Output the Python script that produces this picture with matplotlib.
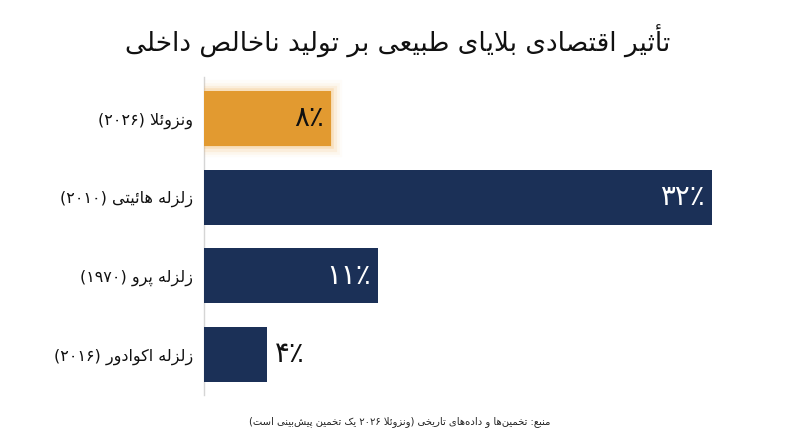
import re
import matplotlib
matplotlib.use('Agg')
import matplotlib.pyplot as plt
import matplotlib.patheffects as pe

# داده‌ها
categories = ['ونزوئلا (۲۰۲۶)', 'زلزله هائیتی (۲۰۱۰)', 'زلزله پرو (۱۹۷۰)', 'زلزله اکوادور (۲۰۱۶)']
values = [8, 32, 11, 4]
highlight = [True, False, False, False]
title = 'تأثیر اقتصادی بلایای طبیعی بر تولید ناخالص داخلی'
source = 'منبع: تخمین‌ها و داده‌های تاریخی (ونزوئلا ۲۰۲۶ یک تخمین پیش‌بینی است)'

ORANGE = '#E29A30'
NAVY = '#1B3057'

# --- a tiny arabic/persian shaper (no arabic_reshaper here) ---
_TABLE = [
    ('ء', 0xFE80, 'U'), ('آ', 0xFE81, 'R'), ('أ', 0xFE83, 'R'), ('ؤ', 0xFE85, 'R'),
    ('إ', 0xFE87, 'R'), ('ئ', 0xFE89, 'D'), ('ا', 0xFE8D, 'R'), ('ب', 0xFE8F, 'D'),
    ('ة', 0xFE93, 'R'), ('ت', 0xFE95, 'D'), ('ث', 0xFE99, 'D'), ('ج', 0xFE9D, 'D'),
    ('ح', 0xFEA1, 'D'), ('خ', 0xFEA5, 'D'), ('د', 0xFEA9, 'R'), ('ذ', 0xFEAB, 'R'),
    ('ر', 0xFEAD, 'R'), ('ز', 0xFEAF, 'R'), ('س', 0xFEB1, 'D'), ('ش', 0xFEB5, 'D'),
    ('ص', 0xFEB9, 'D'), ('ض', 0xFEBD, 'D'), ('ط', 0xFEC1, 'D'), ('ظ', 0xFEC5, 'D'),
    ('ع', 0xFEC9, 'D'), ('غ', 0xFECD, 'D'), ('ف', 0xFED1, 'D'), ('ق', 0xFED5, 'D'),
    ('ك', 0xFED9, 'D'), ('ل', 0xFEDD, 'D'), ('م', 0xFEE1, 'D'), ('ن', 0xFEE5, 'D'),
    ('ه', 0xFEE9, 'D'), ('و', 0xFEED, 'R'), ('ى', 0xFEEF, 'R'), ('ي', 0xFEF1, 'D'),
    ('پ', 0xFB56, 'D'), ('چ', 0xFB7A, 'D'), ('ژ', 0xFB8A, 'R'), ('ک', 0xFB8E, 'D'),
    ('گ', 0xFB92, 'D'), ('ی', 0xFBFC, 'D'),
]
BASE = {c: b for c, b, t in _TABLE}
JTYPE = {c: t for c, b, t in _TABLE}
LAM_ALEF = {'ا': 0xFEFB, 'أ': 0xFEF7, 'آ': 0xFEF5, 'إ': 0xFEF9}
DIGITS = '۰۱۲۳۴۵۶۷۸۹0123456789٪%'
MIRROR = {'(': ')', ')': '('}


def shape(text):
    units = []
    i = 0
    while i < len(text):
        if text[i] == 'ل' and i + 1 < len(text) and text[i + 1] in LAM_ALEF:
            units.append(('LA', text[i + 1]))
            i += 2
        else:
            units.append(('C', text[i]))
            i += 1

    def jt(u):
        return 'R' if u[0] == 'LA' else JTYPE.get(u[1], 'U')

    out = []
    for k, u in enumerate(units):
        t = jt(u)
        prev = k > 0 and jt(units[k - 1]) == 'D' and t in 'DR'
        nxt = k < len(units) - 1 and t == 'D' and jt(units[k + 1]) in 'DR'
        if u[0] == 'LA':
            out.append(chr(LAM_ALEF[u[1]] + (1 if prev else 0)))
        elif u[1] == '\u200c':
            continue
        elif t == 'D':
            idx = 3 if (prev and nxt) else 1 if prev else 2 if nxt else 0
            out.append(chr(BASE[u[1]] + idx))
        elif t == 'R':
            out.append(chr(BASE[u[1]] + (1 if prev else 0)))
        else:
            out.append(u[1])
    return ''.join(out)


def rtl(text):
    s = shape(text)
    runs = re.findall('[%s]+|[^%s]+' % (DIGITS, DIGITS), s)
    runs = [r if r[0] in DIGITS else ''.join(MIRROR.get(c, c) for c in reversed(r)) for r in runs]
    return ''.join(reversed(runs))


def fa_num(v):
    return str(v).translate(str.maketrans('0123456789', '۰۱۲۳۴۵۶۷۸۹')) + '٪'


fig = plt.figure(figsize=(8, 4.47), dpi=100)
ax = fig.add_axes([0.255, 0.1163, 0.68, 0.7114])

ypos = list(range(len(categories)))
colors = [ORANGE if h else NAVY for h in highlight]
bars = ax.barh(ypos, values, height=0.7, color=colors, zorder=3)

# glow round the highlighted bar
for b, h in zip(bars, highlight):
    if h:
        b.set_path_effects([pe.Stroke(linewidth=16, foreground='#F8CC90', alpha=0.05),
                            pe.Stroke(linewidth=12, foreground='#F6C078', alpha=0.08),
                            pe.Stroke(linewidth=8, foreground='#F4B560', alpha=0.12),
                            pe.Stroke(linewidth=4, foreground='#F0AA48', alpha=0.2),
                            pe.Normal()])

for y, v, h in zip(ypos, values, highlight):
    lab = fa_num(v)
    if v < 6:
        ax.text(v + 0.5, y, lab, ha='left', va='center', fontsize=20, color='#111111', zorder=4)
    else:
        ax.text(v - 0.45, y, lab, ha='right', va='center', fontsize=20,
                color='#111111' if h else 'white', zorder=4)

ax.set_xlim(0, 34.3)
ax.set_ylim(3.515, -0.527)
ax.set_yticks(ypos)
ax.set_yticklabels([rtl(c) for c in categories], fontsize=11.5, color='#111111')
ax.tick_params(axis='y', length=0, pad=8)
ax.xaxis.set_visible(False)
for s in ['top', 'right', 'bottom']:
    ax.spines[s].set_visible(False)
ax.spines['left'].set_color('#D5D5D5')
ax.spines['left'].set_linewidth(1)

fig.text(0.4975, 0.908, rtl(title), ha='center', va='center', fontsize=19, color='#111111')
fig.text(0.5, 0.058, rtl(source), ha='center', va='center', fontsize=7.2, color='#222222')

fig.savefig('out.png', dpi=100)
